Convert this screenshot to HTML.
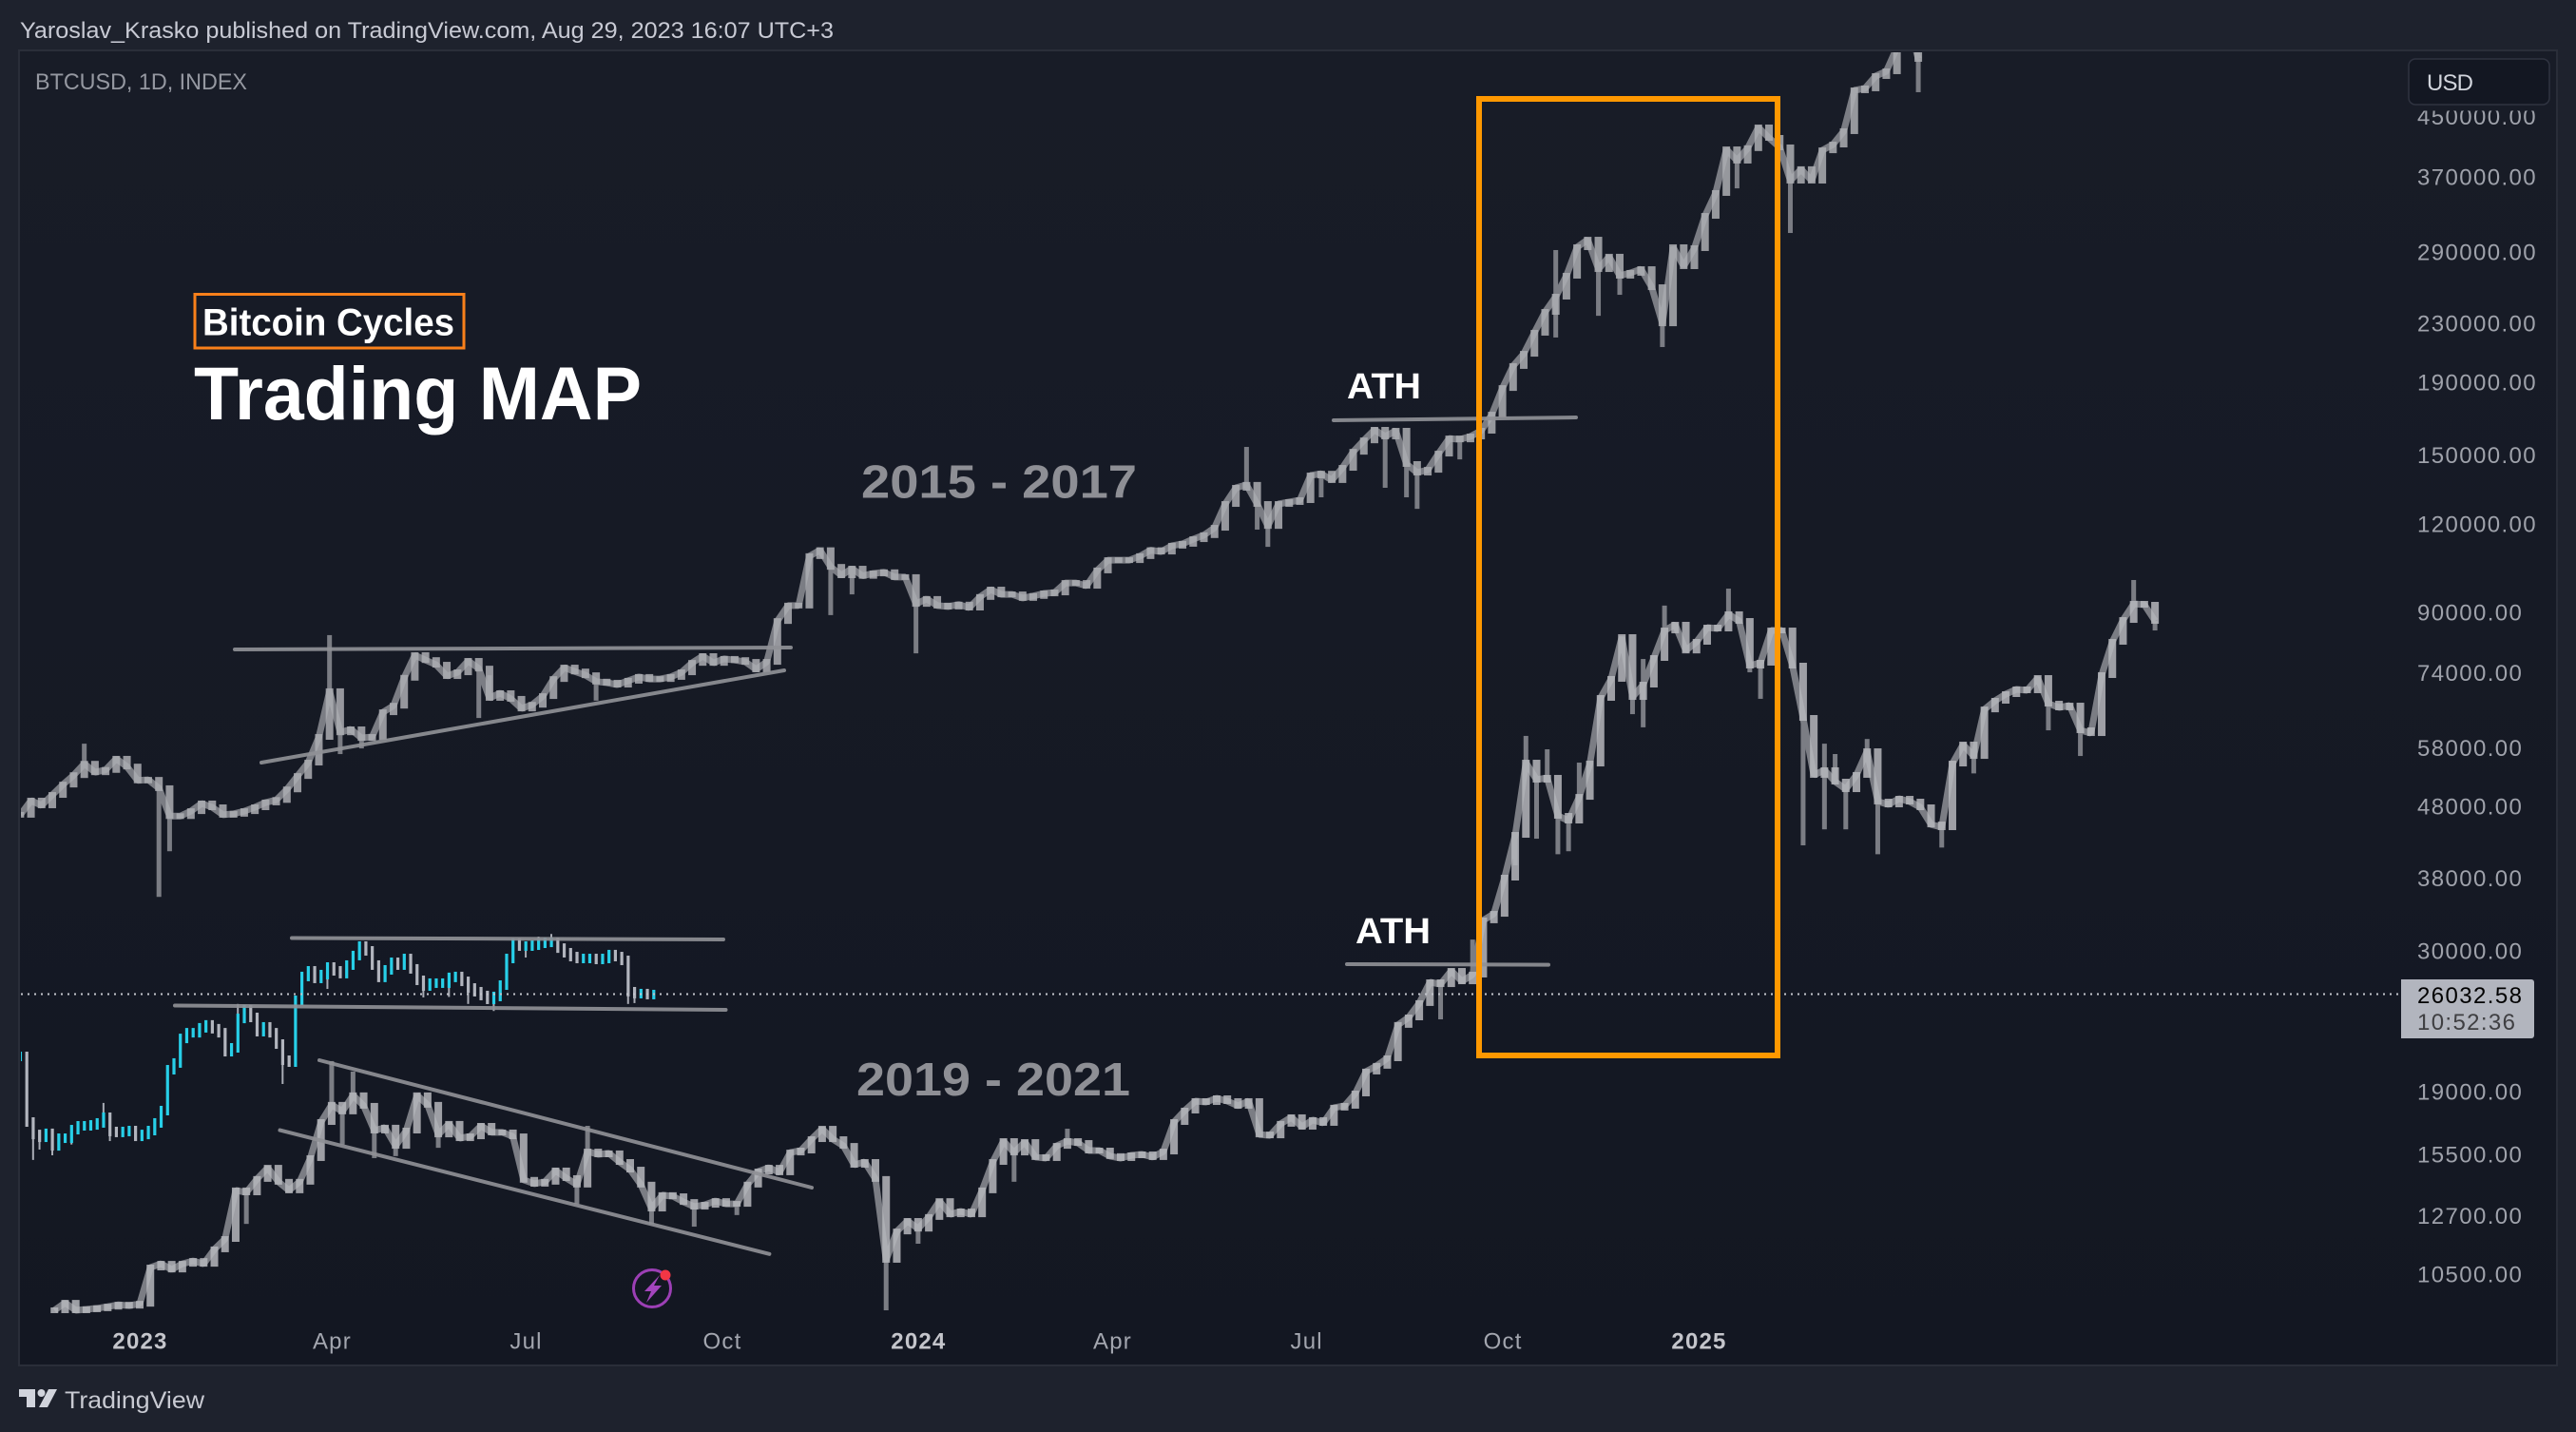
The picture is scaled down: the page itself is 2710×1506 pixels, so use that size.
<!DOCTYPE html>
<html lang="en">
<head>
<meta charset="utf-8">
<title>Bitcoin Cycles Trading MAP</title>
<style>
html,body{margin:0;padding:0;background:#1e222d;}
svg{display:block;font-family:"Liberation Sans",sans-serif;}
</style>
</head>
<body>
<svg id="chart" xmlns="http://www.w3.org/2000/svg" width="2710" height="1506" viewBox="0 0 2710 1506">
  <defs>
    <linearGradient id="paneGradient" x1="0" y1="0" x2="0" y2="1">
      <stop offset="0" stop-color="#181c27"/>
      <stop offset="1" stop-color="#131722"/>
    </linearGradient>
    <clipPath id="plotClip"><rect x="22" y="55" width="2666" height="1380"/></clipPath>
    <clipPath id="topTickClip"><rect x="2500" y="116.5" width="188" height="1318"/></clipPath>
  </defs>
  <rect x="0" y="0" width="2710" height="1506" fill="#1e222d"/>
  <text x="21" y="40" font-size="24" fill="#c8cad4" textLength="856" lengthAdjust="spacingAndGlyphs">Yaroslav_Krasko published on TradingView.com, Aug 29, 2023 16:07 UTC+3</text>
  <rect x="20" y="53" width="2670" height="1383" fill="url(#paneGradient)" stroke="#2a2e39" stroke-width="2"/>
  <text x="37" y="94" font-size="24" fill="#9598a1" textLength="223" lengthAdjust="spacingAndGlyphs">BTCUSD, 1D, INDEX</text>

  <g id="seriesLayer" clip-path="url(#plotClip)"></g>

  <g stroke-linecap="round" fill="none" stroke="#8f9096" stroke-opacity="0.92" stroke-width="4">
    <line x1="247" y1="683" x2="832" y2="681"/>
    <line x1="275" y1="802" x2="825" y2="705"/>
    <line x1="307" y1="986.5" x2="761" y2="988"/>
    <line x1="184" y1="1057.5" x2="763.5" y2="1062"/>
    <line x1="336" y1="1115" x2="854" y2="1249"/>
    <line x1="294.5" y1="1188.6" x2="809.4" y2="1318.8"/>
    <line x1="1403" y1="442" x2="1658" y2="439"/>
    <line x1="1417" y1="1014" x2="1629" y2="1014.6"/>
  </g>

  <line id="lastPriceLine" x1="22" x2="2526" stroke="#c3c5cc" stroke-width="2" stroke-dasharray="2 5"/>

  <rect x="1556" y="104" width="314" height="1006" fill="none" stroke="#ff9800" stroke-width="6"/>

  <rect x="205" y="309.5" width="283" height="56.5" fill="none" stroke="#f9801a" stroke-width="3"/>
  <text x="213" y="352.5" font-size="40" font-weight="700" fill="#ffffff" textLength="265" lengthAdjust="spacingAndGlyphs">Bitcoin Cycles</text>
  <text x="204" y="441" font-size="79" font-weight="700" fill="#ffffff" textLength="471" lengthAdjust="spacingAndGlyphs">Trading MAP</text>
  <text x="906" y="523.5" font-size="49" font-weight="700" fill="#8e8f95" textLength="290" lengthAdjust="spacingAndGlyphs">2015 - 2017</text>
  <text x="901" y="1152" font-size="49" font-weight="700" fill="#8e8f95" textLength="288" lengthAdjust="spacingAndGlyphs">2019 - 2021</text>
  <text x="1417" y="419" font-size="38" font-weight="700" fill="#ffffff" textLength="78" lengthAdjust="spacingAndGlyphs">ATH</text>
  <text x="1426" y="992" font-size="38" font-weight="700" fill="#ffffff" textLength="79" lengthAdjust="spacingAndGlyphs">ATH</text>

  <g>
    <circle cx="686" cy="1355" r="19.5" fill="none" stroke="#9c3fb5" stroke-width="3"/>
    <polygon points="694,1341 678,1358 685,1358 680,1370 696,1352 688,1352" fill="#a445bd"/>
    <circle cx="700" cy="1341" r="5.5" fill="#f23645"/>
  </g>

  <g id="xAxis"></g>
  <g id="yAxis" clip-path="url(#topTickClip)"></g>

  <rect x="2534" y="62" width="148" height="48" rx="7" fill="#131722" stroke="#2f3340" stroke-width="1.5"/>
  <text x="2553" y="95" font-size="24" fill="#d1d4dc" textLength="49">USD</text>

  <path d="M2526 1030H2663a3 3 0 0 1 3 3V1089a3 3 0 0 1-3 3H2526Z" fill="#b2b5be"/>
  <text x="2543" y="1055" font-size="24" fill="#000000" textLength="110">26032.58</text>
  <text x="2543" y="1083" font-size="24" fill="#3f3f42" textLength="103">10:52:36</text>

  <g>
    <polygon points="20,1461 37,1461 37,1480 28,1480 28,1469 20,1469" fill="#d1d4dc"/>
    <circle cx="43.5" cy="1465" r="4" fill="#d1d4dc"/>
    <polygon points="51,1461 60,1461 50,1480 41,1480" fill="#d1d4dc"/>
    <text x="68" y="1481" font-size="25" fill="#c8cad2" textLength="147" lengthAdjust="spacingAndGlyphs">TradingView</text>
  </g>
</svg>
<script>
const upperStartDay = -56;
const lowerStartDay = -40;
const currentStartDay = -56;
const upperBarDays = 5;
const lowerBarDays = 5;
const currentBarDays = 3;

const priceTicks = [450000,370000,290000,230000,190000,150000,120000,90000,74000,58000,48000,38000,30000,19000,15500,12700,10500];
const timeTickDays = [0,90,181,273,365,456,547,639,731];
const timeTickLabels = ['2023','Apr','Jul','Oct','2024','Apr','Jul','Oct','2025'];
const timeTickMajor = [true,false,false,false,true,false,false,false,true];
const lastPrice = 26032.58;

const upperCloses = [46600,48800,48050,49700,51400,53000,55000,53500,53900,55900,54500,52100,52200,50800,46400,46400,47150,48350,47750,46600,46750,47150,47750,48500,48900,50600,52850,55200,60000,69600,60900,61500,59800,60000,65000,66400,72700,78250,77000,75850,73100,74000,76800,74900,68100,69150,67900,65800,66600,68500,72400,75150,74200,73300,71800,71550,71100,72000,72900,72400,72400,72900,74000,76300,78000,76300,77300,77000,76550,74700,76550,87400,91900,91900,107900,110000,104200,101400,103600,101200,102000,102400,100800,100800,92400,93900,91900,91600,92200,91300,94500,96800,95300,95300,94200,94800,95600,95900,98900,98900,98000,103000,106500,106500,106500,107900,110000,109500,111600,112300,114000,115500,118300,127800,134700,136000,127800,119000,127800,128600,129400,140200,141000,138100,143700,151400,157100,162600,159100,162100,145500,141500,142800,150500,158100,157600,159100,162100,170800,186200,200000,208100,222800,238400,250500,268100,294100,301400,273900,285200,268100,270600,273900,258300,229700,294100,276500,293200,325600,350700,404100,389500,405600,433900,419400,406700,365000,378900,365000,402800,410400,428600,489400,492500,512600,520600,562300,617000,541900];
const upperWickBars = [6,13,14,29,30,32,43,44,54,76,78,84,115,116,117,122,128,130,131,135,144,144,148,150,154,161,166,178];
const upperWickPrices = [58700,35700,41400,83500,56750,57800,63800,73300,67500,89100,95300,78700,153800,117600,111200,130600,134700,130600,125800,147700,291400,219400,235400,252000,212700,356000,308000,486400];

const lowerCloses = [9330,9560,9330,9360,9390,9440,9500,9470,9530,10720,10850,10650,10850,10950,10850,11370,11760,13770,13680,14290,14820,14160,13770,14160,15290,17190,18180,17790,18750,18120,16720,16880,15910,16720,18750,18180,16510,17090,16310,16410,16980,16620,16620,16410,14250,14070,14160,14690,14330,14030,15620,15480,15530,15100,14730,14030,12980,13560,13510,13260,13060,13140,13300,13180,13180,14030,14640,14820,14600,15570,15670,16260,16820,16260,15910,14960,15100,14290,10990,12050,12470,12160,12630,13300,12740,12860,12740,13770,15100,16160,15570,16110,15340,15290,15910,16160,16060,15670,15670,15390,15290,15430,15480,15340,15620,17190,17840,18400,18340,18570,18400,18120,18400,16510,16460,17090,17460,16930,17300,17140,18010,18120,18860,20250,20630,21140,23560,24140,25290,27060,26890,28080,27140,27740,33080,33790,38000,43660,55200,52220,52550,46440,45730,49390,55030,68100,72440,82970,68300,71100,77520,84770,86370,79420,81700,85570,85300,89360,87430,75630,76340,84770,84770,75630,63820,53040,53860,51900,50630,53040,57280,48640,48190,49090,48640,47750,45160,44750,55030,58540,56400,65600,67470,68940,70020,69800,72650,66840,66030,66430,61310,60740,73330,81700,87700,92440,92150,87430];
const lowerWickBars = [18,26,27,28,30,32,36,49,50,56,60,64,78,81,90,95,130,133,137,138,139,140,141,142,143,148,149,149,151,157,159,160,164,166,166,167,168,170,171,177,180,187,190,195,197];
const lowerWickPrices = [12350,20950,15980,20250,15290,15390,15810,13180,16980,12350,12240,12710,9330,11580,14160,16820,23990,31080,39550,60200,43120,57640,41000,41400,55200,64600,61900,77270,91900,97100,74000,67900,42200,44450,58700,56760,44450,59600,41000,41900,53300,61300,56400,99850,84770];

const currentCloses = [21270,17190,16510,16360,16570,15910,16310,16310,16770,16980,16980,17030,17140,17460,16670,16620,16670,16720,16410,16510,16720,17140,17840,20370,20820,22550,22970,22970,23340,23560,23270,22970,21600,21870,24060,24750,24140,23050,23410,22970,22140,21010,20880,25520,27570,28080,27400,27740,28430,28080,27830,28610,29510,30430,29960,28610,27490,28170,28870,28610,29230,28260,27230,26730,26980,26980,26980,27490,27570,27140,26560,26240,25920,25600,25840,26810,29230,30710,30430,30430,30520,30710,30800,30800,30230,29780,29410,29230,29230,29230,29140,29230,29600,29410,29050,26240,26080,26080,26000,26000];
const currentWickBars = [2,3,5,8,13,14,32,33,34,41,48,53,63,67,70,74,79,81,83,95,96];
const currentWickPrices = [15200,15720,15430,15980,18290,16160,21360,21280,25220,19450,26480,30900,25760,25800,25220,24650,29320,31380,31650,25220,25290];

const SVG_NS = 'http://www.w3.org/2000/svg';

function xScale(day) { return 147 + 2.2435 * day; }
function yScale(price) { return 923 - 324 * Math.log(price / 38000); }

function shape(parent, tag, attrs) {
  const el = document.createElementNS(SVG_NS, tag);
  Object.keys(attrs).forEach(function (k) { el.setAttribute(k, attrs[k]); });
  parent.appendChild(el);
  return el;
}

function drawGhost(parent, name, startDay, barDays, closes, wickBars, wickPrices, dim, bright) {
  const group = shape(parent, 'g', {});
  
  
  const barX = function (i) { return xScale(startDay + i * barDays); };
  wickBars.forEach(function (bar, k) {
    const a = yScale(closes[bar]);
    const b = yScale(wickPrices[k]);
    const wick = shape(group, 'rect', { x: barX(bar) - 2.5, y: Math.min(a, b), width: 5, height: Math.abs(a - b), fill: dim });
    
    
  });
  const pts = closes.map(function (c, i) { return barX(i).toFixed(1) + ',' + yScale(c).toFixed(1); }).join(' ');
  const line = shape(group, 'polyline', { points: pts, fill: 'none', stroke: dim, 'stroke-width': 7, 'stroke-linejoin': 'bevel' });
  
  
  closes.forEach(function (c, i) {
    const prev = i === 0 ? c : closes[i - 1];
    const a = yScale(prev);
    const b = yScale(c);
    const bar = shape(group, 'rect', { x: barX(i) - 4, y: Math.min(a, b) - 3, width: 8, height: Math.abs(a - b) + 6, fill: bright, 'fill-opacity': 0.85 });
    
    
  });
}

function drawCurrent(parent, name, startDay, barDays, closes, wickBars, wickPrices) {
  const group = shape(parent, 'g', {});
  
  
  const barX = function (i) { return xScale(startDay + i * barDays); };
  wickBars.forEach(function (bar, k) {
    const a = yScale(closes[bar]);
    const b = yScale(wickPrices[k]);
    const wick = shape(group, 'rect', { x: barX(bar) - 1, y: Math.min(a, b), width: 2, height: Math.abs(a - b), fill: '#a9acb5' });
    
    
  });
  closes.forEach(function (c, i) {
    const prev = i === 0 ? c : closes[i - 1];
    const a = yScale(prev);
    const b = yScale(c);
    const bar = shape(group, 'rect', { x: barX(i) - 1.5, y: Math.min(a, b) - 5, width: 3.2, height: Math.abs(a - b) + 10, fill: c >= prev ? '#27cfe8' : '#b2b5be' });
    
    
  });
}

const seriesLayer = document.getElementById('seriesLayer');
drawGhost(seriesLayer, 'cycle-2015-2017-series', upperStartDay, upperBarDays, upperCloses, upperWickBars, upperWickPrices, '#7b7d84', '#adaeb3');
drawGhost(seriesLayer, 'cycle-2019-2021-series', lowerStartDay, lowerBarDays, lowerCloses, lowerWickBars, lowerWickPrices, '#7b7d84', '#b6b7bc');
drawCurrent(seriesLayer, 'btcusd-current-series', currentStartDay, currentBarDays, currentCloses, currentWickBars, currentWickPrices);

const lastLine = document.getElementById('lastPriceLine');
lastLine.setAttribute('y1', yScale(lastPrice));
lastLine.setAttribute('y2', yScale(lastPrice));

const yAxisGroup = document.getElementById('yAxis');
priceTicks.forEach(function (p) {
  const t = shape(yAxisGroup, 'text', { x: 2543, y: yScale(p) + 9, 'font-size': 24, fill: '#9fa2ab', 'letter-spacing': 1.4 });
  
  
  t.textContent = p.toFixed(2);
});

const xAxisGroup = document.getElementById('xAxis');
timeTickDays.forEach(function (d, i) {
  const t = shape(xAxisGroup, 'text', { x: xScale(d) + 0.5, y: 1418.5, 'font-size': 24, 'text-anchor': 'middle', 'letter-spacing': 1.2, fill: timeTickMajor[i] ? '#c4c5cb' : '#a3a6af', 'font-weight': timeTickMajor[i] ? 700 : 400 });
  
  
  t.textContent = timeTickLabels[i];
});
</script>
</body>
</html>
